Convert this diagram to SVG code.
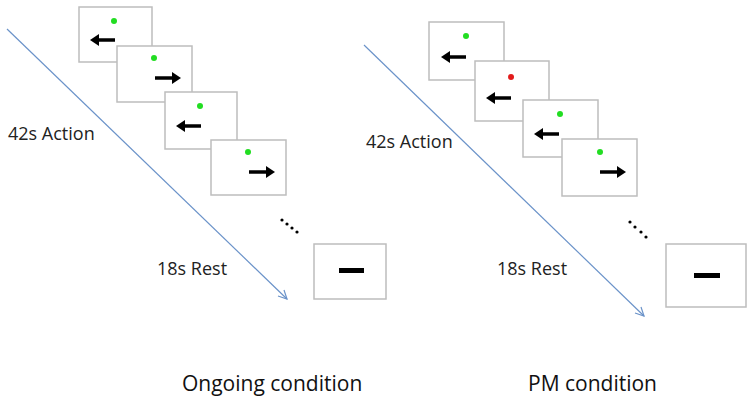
<svg xmlns="http://www.w3.org/2000/svg" width="754" height="404" viewBox="0 0 754 404">
<defs>
<style>
.frame{fill:#fff;stroke:#bdbdbd;stroke-width:1.5}
.shaft{stroke:#000;stroke-width:3.5}
.head{fill:#000}
.g{fill:#22dd22}
.r{fill:#e21b1b}
.tl{stroke:#6b93c9;stroke-width:1.2;fill:none}
.lbl{font-family:"Open Sans","Liberation Sans",sans-serif;font-size:18px;fill:#222}
.ttl{font-family:"Open Sans","Liberation Sans",sans-serif;font-size:21px;fill:#111}
.dot{fill:#000}
</style>
<g id="arrL"><line class="shaft" x1="5" y1="0" x2="25" y2="0"/><polygon class="head" points="0,0 9,-6 9,6"/></g>
<g id="arrR"><line class="shaft" x1="0" y1="0" x2="20" y2="0"/><polygon class="head" points="26,0 17,-6 17,6"/></g>
</defs>
<rect width="754" height="404" fill="#fff"/>

<g id="connectors">
<line class="tl" x1="7" y1="29" x2="287" y2="299"/>
<polyline class="tl" points="278,296 287,299 284,290"/>
<line class="tl" x1="364" y1="45" x2="644" y2="316"/>
<polyline class="tl" points="635,313 644,316 641,307"/>
</g>

<g id="left-trial1"><rect class="frame" x="79" y="7" width="73" height="55"/><circle class="g" cx="114" cy="21" r="3"/><use href="#arrL" x="90" y="40"/></g>
<g id="left-trial2"><rect class="frame" x="117" y="46" width="75" height="56"/><circle class="g" cx="154" cy="58" r="3"/><use href="#arrR" x="155" y="78"/></g>
<g id="left-trial3"><rect class="frame" x="165" y="92" width="72" height="57"/><circle class="g" cx="200" cy="106" r="3"/><use href="#arrL" x="176" y="126"/></g>
<g id="left-trial4"><rect class="frame" x="211" y="140" width="75" height="55"/><circle class="g" cx="248" cy="152" r="3"/><use href="#arrR" x="249" y="172"/></g>
<g id="left-ellipsis"><circle class="dot" cx="282" cy="220" r="1.6"/><circle class="dot" cx="287" cy="224" r="1.6"/><circle class="dot" cx="292" cy="228" r="1.6"/><circle class="dot" cx="297" cy="232" r="1.6"/></g>
<g id="left-rest"><rect class="frame" x="314" y="244" width="72" height="55"/><rect x="339" y="268" width="25" height="5" fill="#000"/></g>
<text class="lbl" x="8" y="140">42s Action</text>
<text class="lbl" x="157" y="275">18s Rest</text>
<text class="ttl" x="182" y="391">Ongoing condition</text>

<g id="right-trial1"><rect class="frame" x="429" y="22" width="75" height="58"/><circle class="g" cx="466" cy="36" r="3"/><use href="#arrL" x="441" y="57"/></g>
<g id="right-trial2"><rect class="frame" x="475" y="61" width="74" height="60"/><circle class="r" cx="511" cy="77" r="3"/><use href="#arrL" x="486" y="98"/></g>
<g id="right-trial3"><rect class="frame" x="523" y="100" width="75" height="57"/><circle class="g" cx="560" cy="114" r="3"/><use href="#arrL" x="534" y="134"/></g>
<g id="right-trial4"><rect class="frame" x="562" y="139" width="75" height="57"/><circle class="g" cx="600" cy="152" r="3"/><use href="#arrR" x="600" y="172"/></g>
<g id="right-ellipsis"><circle class="dot" cx="630" cy="222" r="1.6"/><circle class="dot" cx="635" cy="227" r="1.6"/><circle class="dot" cx="641" cy="232" r="1.6"/><circle class="dot" cx="646" cy="237" r="1.6"/></g>
<g id="right-rest"><rect class="frame" x="666" y="244" width="80" height="63"/><rect x="694" y="273" width="26" height="5" fill="#000"/></g>
<text class="lbl" x="366" y="148">42s Action</text>
<text class="lbl" x="497" y="275">18s Rest</text>
<text class="ttl" x="528" y="391">PM condition</text>
</svg>
